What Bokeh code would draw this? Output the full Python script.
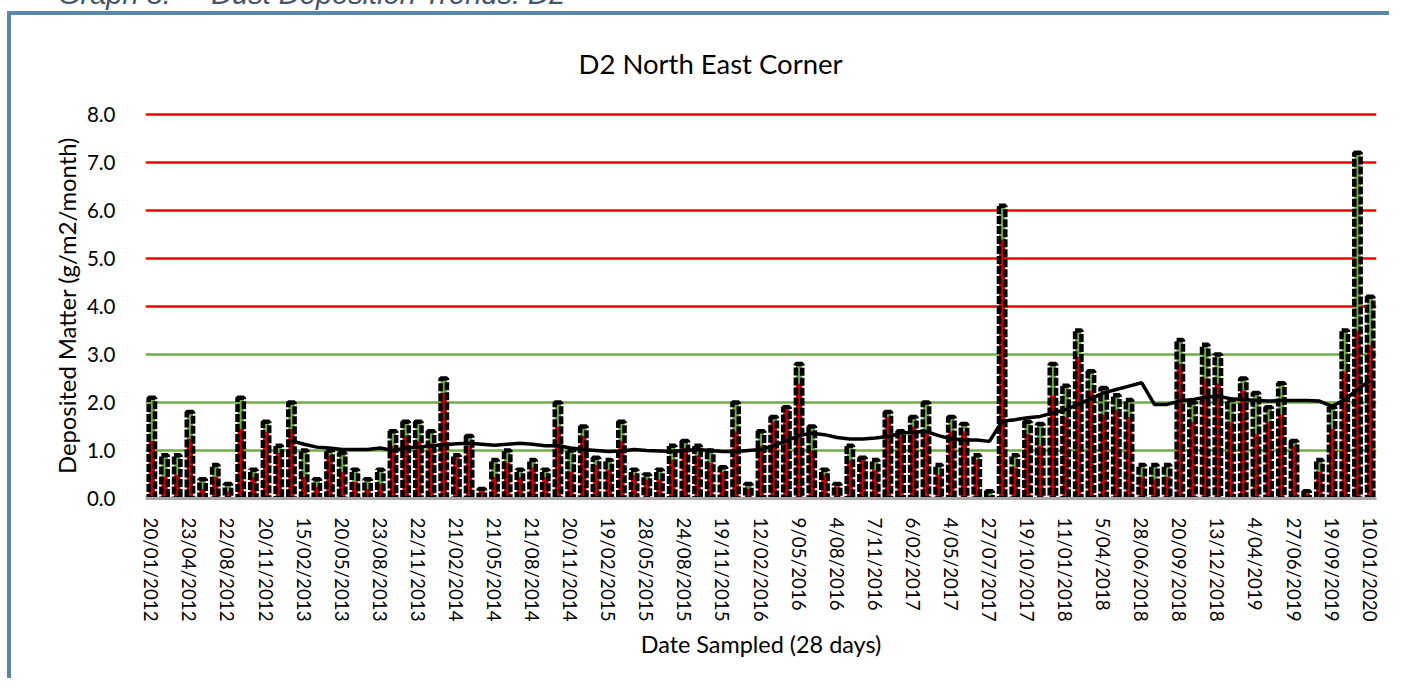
import math
from bokeh.plotting import figure
from bokeh.models import FixedTicker, Grid, Range1d, ColumnDataSource, Div
from bokeh.layouts import column
from bokeh.embed import file_html
from bokeh.resources import INLINE

# ---- data ----
totals = [2.1, 0.9, 0.9, 1.8, 0.4, 0.7, 0.3, 2.1, 0.6, 1.6,
          1.1, 2.0, 1.0, 0.4, 1.0, 0.95, 0.6, 0.4, 0.6, 1.4,
          1.6, 1.6, 1.4, 2.5, 0.9, 1.3, 0.2, 0.8, 1.0, 0.6,
          0.8, 0.6, 2.0, 1.0, 1.5, 0.85, 0.8, 1.6, 0.6, 0.5,
          0.6, 1.1, 1.2, 1.1, 1.0, 0.65, 2.0, 0.3, 1.4, 1.7,
          1.9, 2.8, 1.5, 0.6, 0.3, 1.1, 0.85, 0.8, 1.8, 1.4,
          1.7, 2.0, 0.7, 1.7, 1.55, 0.9, 0.15, 6.1, 0.9, 1.6,
          1.55, 2.8, 2.35, 3.5, 2.65, 2.3, 2.15, 2.05, 0.7, 0.7,
          0.7, 3.3, 2.0, 3.2, 3.0, 2.05, 2.5, 2.2, 1.9, 2.4,
          1.2, 0.15, 0.8, 1.9, 3.5, 7.2, 4.2]

red_part = [1.2, 0.45, 0.5, 1.25, 0.2, 0.45, 0.15, 1.45, 0.45, 1.4,
            0.95, 1.45, 0.45, 0.25, 0.9, 0.55, 0.35, 0.2, 0.3, 1.1,
            1.3, 1.2, 1.15, 2.2, 0.85, 1.1, 0.15, 0.45, 0.75, 0.45,
            0.65, 0.45, 1.5, 0.55, 1.3, 0.7, 0.6, 1.2, 0.5, 0.4,
            0.4, 0.8, 1.05, 0.9, 0.75, 0.55, 1.4, 0.2, 1.1, 1.6,
            1.85, 2.4, 1.0, 0.5, 0.25, 0.8, 0.8, 0.6, 1.7, 1.3,
            1.5, 1.4, 0.5, 1.4, 1.4, 0.8, 0.03, 5.4, 0.65, 1.35,
            1.1, 2.15, 1.7, 2.95, 2.25, 1.75, 1.85, 1.7, 0.45, 0.4,
            0.45, 2.8, 1.6, 2.5, 2.4, 1.6, 2.25, 1.35, 1.6, 1.75,
            1.1, 0.1, 0.55, 1.45, 2.65, 3.5, 3.2]

nan = float("nan")
moving_avg = [nan] * 11 + [
    1.2, 1.13, 1.07, 1.05, 1.02, 1.02, 1.02, 1.05, 1.0, 1.05,
    1.07, 1.1, 1.12, 1.14, 1.15, 1.13, 1.11, 1.13, 1.15, 1.13,
    1.1, 1.1, 1.05, 1.02, 1.0, 0.98, 0.99, 1.02, 1.0, 0.99,
    0.98, 1.0, 1.02, 1.0, 0.98, 0.98, 1.0, 1.02, 1.1, 1.2,
    1.31, 1.36, 1.33, 1.27, 1.24, 1.24, 1.26, 1.29, 1.36, 1.38,
    1.4, 1.31, 1.24, 1.22, 1.22, 1.19, 1.61, 1.64, 1.68, 1.71,
    1.78, 1.85, 1.96, 2.08, 2.2, 2.27, 2.34, 2.41, 1.96, 1.96,
    2.03, 2.06, 2.11, 2.13, 2.08, 2.06, 2.04, 2.03, 2.04, 2.04,
    2.04, 2.03, 1.92, 2.06, 2.27, 2.46]

tick_labels = ["20/01/2012", "23/04/2012", "22/08/2012", "20/11/2012", "15/02/2013",
               "20/05/2013", "23/08/2013", "22/11/2013", "21/02/2014", "21/05/2014",
               "21/08/2014", "20/11/2014", "19/02/2015", "28/05/2015", "24/08/2015",
               "19/11/2015", "12/02/2016", "9/05/2016", "4/08/2016", "7/11/2016",
               "6/02/2017", "4/05/2017", "27/07/2017", "19/10/2017", "11/01/2018",
               "5/04/2018", "28/06/2018", "20/09/2018", "13/12/2018", "4/04/2019",
               "27/06/2019", "19/09/2019", "10/01/2020"]
label_step = 3
y_ticks = [0, 1, 2, 3, 4, 5, 6, 7, 8]
green_lines = [1, 2, 3]
red_lines = [4, 5, 6, 7, 8]

title_text = "D2 North East Corner"
x_title = "Date Sampled (28 days)"
y_title = "Deposited Matter (g/m2/month)"
caption = "Graph 8.&nbsp;&nbsp;&nbsp;&nbsp;&nbsp;Dust Deposition Trends: D2"

FONT = "Lato"
n = len(totals)
xs = list(range(n))
src = ColumnDataSource(dict(x=xs, total=totals, red=red_part, ma=moving_avg))

p = figure(width=1382, height=667, output_backend="svg", toolbar_location=None,
           x_range=Range1d(-0.5, n - 0.5), y_range=Range1d(0, 8.04),
           min_border_left=134, min_border_right=17, min_border_top=96, min_border_bottom=184,
           margin=(7, 0, 0, 7),
           styles={"border-left": "4px solid #5B87A6", "border-top": "4px solid #5B87A6"})
p.outline_line_color = None
p.background_fill_color = "white"
p.border_fill_color = "white"

# grid lines
p.xgrid.visible = False
p.ygrid.visible = False
p.add_layout(Grid(dimension=1, ticker=FixedTicker(ticks=green_lines),
                  grid_line_color="#70AD47", grid_line_width=2.5))
p.add_layout(Grid(dimension=1, ticker=FixedTicker(ticks=red_lines),
                  grid_line_color="#FF0000", grid_line_width=2.5))

# bars (stacked: red lower part, green upper part, dashed black outline)
p.vbar(x="x", bottom="red", top="total", width=0.5, source=src,
       fill_color="#70AD47", line_color=None)
p.vbar(x="x", bottom=0, top="red", width=0.5, source=src,
       fill_color="#D00000", line_color=None)
p.vbar(x="x", bottom=0, top="total", width=0.5, source=src,
       fill_alpha=0, line_color="black", line_width=4.5, line_dash="8 2")

# moving average
p.line(x="x", y="ma", source=src, line_color="black", line_width=3.5)

# axes
p.yaxis.ticker = FixedTicker(ticks=y_ticks)
p.yaxis.major_label_overrides = {t: f"{t:.1f}" for t in y_ticks}
p.yaxis.axis_line_color = None
p.yaxis.major_tick_line_color = None
p.yaxis.minor_tick_line_color = None
p.yaxis.major_label_standoff = 24
p.yaxis.major_label_text_font = FONT
p.yaxis.major_label_text_font_size = "20.5px"
p.yaxis.major_label_text_color = "#000000"
p.yaxis.axis_label = y_title
p.yaxis.axis_label_text_font = FONT
p.yaxis.axis_label_text_font_size = "23.8px"
p.yaxis.axis_label_text_font_style = "normal"
p.yaxis.axis_label_text_color = "#000000"
p.yaxis.axis_label_standoff = 3

tick_pos = list(range(0, n, label_step))
p.xaxis.ticker = FixedTicker(ticks=tick_pos)
p.xaxis.major_label_overrides = {t: lab for t, lab in zip(tick_pos, tick_labels)}
p.xaxis.major_label_orientation = -math.pi / 2
p.xaxis.axis_line_color = "#A6A6A6"
p.xaxis.axis_line_width = 3
p.xaxis.major_tick_line_color = None
p.xaxis.minor_tick_line_color = None
p.xaxis.major_label_standoff = 13
p.xaxis.major_label_text_font = FONT
p.xaxis.major_label_text_font_size = "18.8px"
p.xaxis.major_label_text_color = "#000000"
p.xaxis.axis_label = x_title
p.xaxis.axis_label_text_font = FONT
p.xaxis.axis_label_text_font_size = "23.4px"
p.xaxis.axis_label_text_font_style = "normal"
p.xaxis.axis_label_text_color = "#000000"
p.xaxis.axis_label_standoff = 5

p.title.text = title_text
p.title.align = "left"
p.title.offset = 433
p.title.vertical_align = "top"
p.title.standoff = 62
p.title.text_font = FONT
p.title.text_font_size = "27.5px"
p.title.text_font_style = "normal"
p.title.text_color = "#000000"

cap = Div(text=f'<span style="font-family:\'Liberation Sans\';font-style:italic;font-size:29px;'
               f'color:#44546A;white-space:nowrap">{caption}</span>',
          width=900, height=30, margin=(-26, 0, 0, 58))

layout = column(cap, p, spacing=0)
open("out.html", "w").write(file_html(layout, INLINE))
